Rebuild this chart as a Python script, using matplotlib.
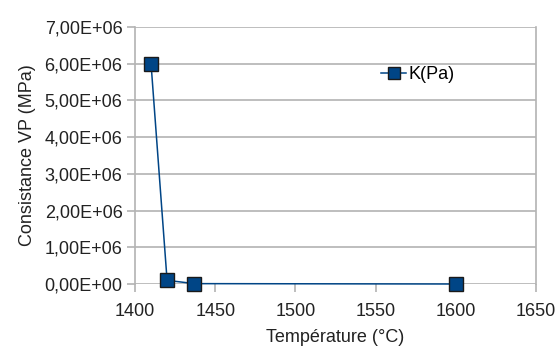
import matplotlib
matplotlib.use("Agg")
import matplotlib.pyplot as plt
from matplotlib.ticker import FuncFormatter, MultipleLocator

temperature = [1410, 1420, 1437, 1600]
k_pa = [6.0e6, 1.0e5, 1.0e4, 0.0]
series_name = "K(Pa)"

plt.rcParams['font.family'] = ['Liberation Sans', 'DejaVu Sans']

fig = plt.figure(figsize=(5.58, 3.47), dpi=100)
ax = fig.add_axes([135/558, 1-284/347, (536-135)/558, (284-27)/347])

grid_c = '#b3b3b3'
ax.set_xlim(1400, 1650)
ax.set_ylim(0, 7e6)
ax.xaxis.set_major_locator(MultipleLocator(50))
ax.yaxis.set_major_locator(MultipleLocator(1e6))

def sci_fmt(v, pos):
    s = "%.2E" % v
    return s.replace('.', ',')
ax.yaxis.set_major_formatter(FuncFormatter(sci_fmt))

ax.grid(axis='y', color=grid_c, linewidth=1.2)
ax.set_axisbelow(True)
for side in ['top', 'bottom']:
    ax.spines[side].set_visible(False)
for side in ['left', 'right']:
    ax.spines[side].set_color(grid_c)
    ax.spines[side].set_linewidth(1.2)

ax.tick_params(axis='both', colors=grid_c, labelcolor='#222222', labelsize=13,
               length=6, width=1.2, direction='out')
ax.tick_params(axis='y', pad=3)
ax.tick_params(axis='x', pad=8)

ax.plot(temperature, k_pa, color='#004586', linewidth=1.1, marker='s',
        markersize=10, markerfacecolor='#004586', markeredgecolor='#1a1a1a',
        markeredgewidth=1.0, label=series_name, clip_on=False, zorder=3)

ax.set_xlabel("Température (°C)", fontsize=13, color='#222222', labelpad=6)
ax.set_ylabel("Consistance VP (MPa)", fontsize=13, color='#222222', labelpad=6)

leg = ax.legend(loc='upper left', bbox_to_anchor=((381-135)/401, 1-(66-27)/257),
                frameon=False, fontsize=13, handlelength=1.4, handletextpad=0.15,
                borderpad=0, borderaxespad=0, markerscale=0.8)

fig.savefig("out.png", dpi=100)
